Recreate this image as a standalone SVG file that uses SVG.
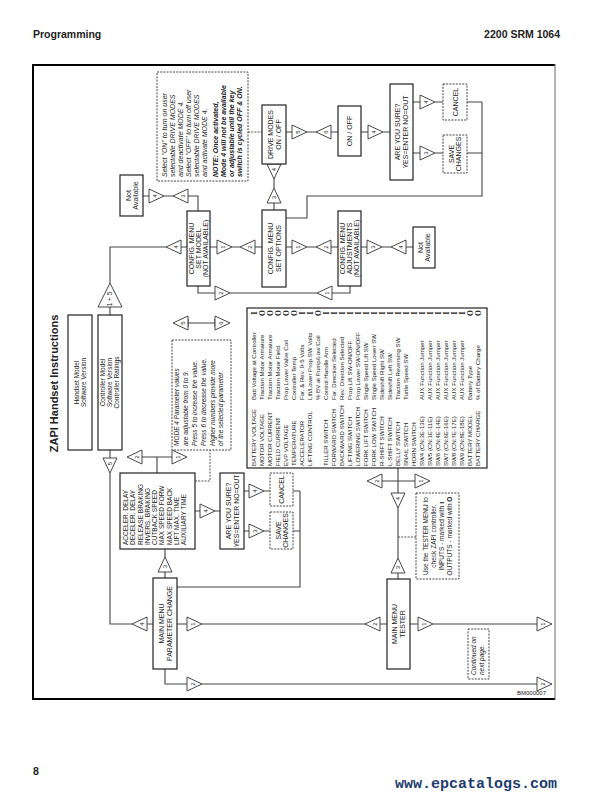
<svg xmlns="http://www.w3.org/2000/svg" xmlns:xlink="http://www.w3.org/1999/xlink" width="607" height="802" viewBox="0 0 607 802">
<style>
text{font-family:"Liberation Sans",Arial,sans-serif;fill:#222}
.bx{fill:#fff;stroke:#222;stroke-width:1.2}
.dbx{fill:#fff;stroke:#444;stroke-width:1;stroke-dasharray:2 1.2}
.ln{fill:none;stroke:#444;stroke-width:1.1}
.dln{fill:none;stroke:#555;stroke-width:1;stroke-dasharray:2 1.2}
.c7{font-size:7px;text-anchor:middle}
.c65{font-size:6.5px;text-anchor:middle}
.s7{font-size:7px}
.s65{font-size:6.5px}
.s62{font-size:6.1px}
.it{font-style:italic}
.bi{font-style:italic;font-weight:bold}
.tn{font-size:6px;text-anchor:middle}
.io{font-family:"Liberation Serif","Times New Roman",serif;font-weight:bold;font-size:7.5px;text-anchor:middle}
.hd{font-size:10.5px;font-weight:bold}
</style>
<defs>
<path id="tr" d="M0,-7 L15,0 L0,7 Z" fill="#fff" stroke="#333" stroke-width="0.9"/>
</defs>

<!-- page header / footer -->
<text class="hd" x="33" y="38">Programming</text>
<text class="hd" x="560" y="38" text-anchor="end">2200 SRM 1064</text>
<text class="hd" x="33" y="775">8</text>
<text x="395" y="788" style="font-family:'Liberation Mono','Courier New',monospace;font-size:15px;font-weight:bold;fill:#1e3c6e">www.epcatalogs.com</text>

<!-- frame -->
<path d="M555,65 H33 V699 H555" fill="none" stroke="#000" stroke-width="2"/>
<line x1="555" y1="64" x2="555" y2="700" stroke="#666" stroke-width="1"/>
<text x="517" y="695" style="font-size:6px">BM000007</text>
<text class="hd" transform="translate(58,383.5) rotate(-90)" text-anchor="middle" style="font-size:11px">ZAPI Handset Instructions</text>

<!-- connectors -->
<g id="connectors">
<path class="ln" d="M286,132 H292 M307,132 H316 M331,132 H338 M361,132 H368 M383,132 H390"/>
<path class="dln" d="M248,132 H262"/>
<path class="ln" d="M413,102 H420 M435,102 H443 M467,102 H482 M413,153 H420 M435,153 H443 M467,153 H482 M482,102 V196 H307 V218 H286"/>
<path class="ln" d="M274,179 V188 M274,203 V210"/>
<path class="ln" d="M143,196 H149 M164,196 H173 M188,196 H198 V211"/>
<path class="ln" d="M110,283 V247 H166 M181,247 H187 M210,247 H217 M232,247 H240 M255,247 H262 M286,247 H292 M307,247 H316 M331,247 H338 M361,247 H367 M382,247 H391 M406,247 H413"/>
<path class="ln" d="M110,307 V315"/>
<path class="ln" d="M198,286 V293 H215 M230,293 H317 M332,293 H350 V286"/>
<path class="ln" d="M188,323 H215 M188,319 V327 M215,319 V327"/>
<path class="ln" d="M110,450 V458 M110,473 V624 H132 M147,624 H153"/>
<path class="ln" d="M142,457 H172 M157,457 V473"/>
<path class="dln" d="M195,481 H210 V450"/>
<path class="ln" d="M195,511 H200 M215,511 H220"/>
<path class="ln" d="M244,491 H249 M264,491 H270 M293,491 H300 M244,531 H249 M264,531 H270 M293,531 H300 M300,491 V587 H177"/>
<path class="ln" d="M165,549 V557 M165,572 V578"/>
<path class="ln" d="M177,624 H187 M202,624 H365 M380,624 H387 M410,624 H418 M433,624 H537"/>
<path class="ln" d="M165,669 V684 H187 M202,684 H537"/>
<path class="ln" d="M398,468 V493 M398,508 V558 M398,573 V579 M382,481 H415"/>
<path class="dln" d="M398,537 H416"/>
</g>

<!-- triangles -->
<g id="keys">
<use xlink:href="#tr" transform="translate(292,132)"/><text class="tn" transform="translate(297.5,132) rotate(-90)" y="2.1">5</text>
<use xlink:href="#tr" transform="translate(331,132) rotate(180)"/><text class="tn" transform="translate(325.5,132) rotate(-90)" y="2.1">6</text>
<use xlink:href="#tr" transform="translate(368,132)"/><text class="tn" transform="translate(373.5,132) rotate(-90)" y="2.1">4</text>
<use xlink:href="#tr" transform="translate(420,102)"/><text class="tn" transform="translate(425.5,102) rotate(-90)" y="2.1">4</text>
<use xlink:href="#tr" transform="translate(420,153)"/><text class="tn" transform="translate(425.5,153) rotate(-90)" y="2.1">3</text>
<use xlink:href="#tr" transform="translate(274,164) rotate(90)"/><text class="tn" transform="translate(274,169.5) rotate(-90)" y="2.1">4</text>
<use xlink:href="#tr" transform="translate(274,203) rotate(-90)"/><text class="tn" transform="translate(274,197.5) rotate(-90)" y="2.1">3</text>
<use xlink:href="#tr" transform="translate(149,196)"/><text class="tn" transform="translate(154.5,196) rotate(-90)" y="2.1">4</text>
<use xlink:href="#tr" transform="translate(188,196) rotate(180)"/><text class="tn" transform="translate(182.5,196) rotate(-90)" y="2.1">3</text>
<use xlink:href="#tr" transform="translate(181,247) rotate(180)"/><text class="tn" transform="translate(175.5,247) rotate(-90)" y="2.1">4</text>
<use xlink:href="#tr" transform="translate(217,247)"/><text class="tn" transform="translate(222.5,247) rotate(-90)" y="2.1">1</text>
<use xlink:href="#tr" transform="translate(255,247) rotate(180)"/><text class="tn" transform="translate(249.5,247) rotate(-90)" y="2.1">2</text>
<use xlink:href="#tr" transform="translate(292,247)"/><text class="tn" transform="translate(297.5,247) rotate(-90)" y="2.1">1</text>
<use xlink:href="#tr" transform="translate(331,247) rotate(180)"/><text class="tn" transform="translate(325.5,247) rotate(-90)" y="2.1">2</text>
<use xlink:href="#tr" transform="translate(367,247)"/><text class="tn" transform="translate(372.5,247) rotate(-90)" y="2.1">3</text>
<use xlink:href="#tr" transform="translate(406,247) rotate(180)"/><text class="tn" transform="translate(400.5,247) rotate(-90)" y="2.1">4</text>
<use xlink:href="#tr" transform="translate(215,293)"/><text class="tn" transform="translate(220.5,293) rotate(-90)" y="2.1">2</text>
<use xlink:href="#tr" transform="translate(332,293) rotate(180)"/><text class="tn" transform="translate(326.5,293) rotate(-90)" y="2.1">1</text>
<path d="M98,307 L122,307 L110,283 Z" fill="#fff" stroke="#333" stroke-width="0.9"/><text class="tn" transform="translate(110,299) rotate(-90)" y="2.1" style="font-size:6.5px">1 + 5</text>
<use xlink:href="#tr" transform="translate(188,323) rotate(180)"/><text class="tn" transform="translate(182.5,323) rotate(-90)" y="2.1">5</text>
<use xlink:href="#tr" transform="translate(215,323)"/><text class="tn" transform="translate(220.5,323) rotate(-90)" y="2.1">6</text>
<use xlink:href="#tr" transform="translate(110,458) rotate(90)"/><text class="tn" transform="translate(110,463.5) rotate(-90)" y="2.1">5</text>
<use xlink:href="#tr" transform="translate(142,457) rotate(180)"/><text class="tn" transform="translate(136.5,457) rotate(-90)" y="2.1">2</text>
<use xlink:href="#tr" transform="translate(172,457)"/><text class="tn" transform="translate(177.5,457) rotate(-90)" y="2.1">1</text>
<use xlink:href="#tr" transform="translate(200,511)"/><text class="tn" transform="translate(205.5,511) rotate(-90)" y="2.1">4</text>
<use xlink:href="#tr" transform="translate(249,491)"/><text class="tn" transform="translate(254.5,491) rotate(-90)" y="2.1">4</text>
<use xlink:href="#tr" transform="translate(249,531)"/><text class="tn" transform="translate(254.5,531) rotate(-90)" y="2.1">3</text>
<use xlink:href="#tr" transform="translate(165,572) rotate(-90)"/><text class="tn" transform="translate(165,566.5) rotate(-90)" y="2.1">3</text>
<use xlink:href="#tr" transform="translate(147,624) rotate(180)"/><text class="tn" transform="translate(141.5,624) rotate(-90)" y="2.1">4</text>
<use xlink:href="#tr" transform="translate(187,624)"/><text class="tn" transform="translate(192.5,624) rotate(-90)" y="2.1">1</text>
<use xlink:href="#tr" transform="translate(380,624) rotate(180)"/><text class="tn" transform="translate(374.5,624) rotate(-90)" y="2.1">2</text>
<use xlink:href="#tr" transform="translate(418,624)"/><text class="tn" transform="translate(423.5,624) rotate(-90)" y="2.1">1</text>
<use xlink:href="#tr" transform="translate(537,624)"/><text class="tn" transform="translate(542.5,624) rotate(-90)" y="2.1">1</text>
<use xlink:href="#tr" transform="translate(187,684)"/><text class="tn" transform="translate(192.5,684) rotate(-90)" y="2.1">2</text>
<use xlink:href="#tr" transform="translate(537,684)"/><text class="tn" transform="translate(542.5,684) rotate(-90)" y="2.1">2</text>
<use xlink:href="#tr" transform="translate(382,481) rotate(180)"/><text class="tn" transform="translate(376.5,481) rotate(-90)" y="2.1">2</text>
<use xlink:href="#tr" transform="translate(415,481)"/><text class="tn" transform="translate(420.5,481) rotate(-90)" y="2.1">1</text>
<use xlink:href="#tr" transform="translate(398,493) rotate(90)"/><text class="tn" transform="translate(398,498.5) rotate(-90)" y="2.1">4</text>
<use xlink:href="#tr" transform="translate(398,573) rotate(-90)"/><text class="tn" transform="translate(398,567.5) rotate(-90)" y="2.1">3</text>
</g>

<!-- nodes -->
<g id="note-drive">
<rect class="dbx" x="157" y="72" width="91" height="109"/>
<g transform="translate(157,181) rotate(-90)" class="s7">
<text class="it" x="4" y="10">Select "ON" to turn on user</text>
<text class="it" x="4" y="18">selectable DRIVE MODES</text>
<text class="it" x="4" y="26">and deactivate MODE 4.</text>
<text class="it" x="4" y="34">Select "OFF" to turn off user</text>
<text class="it" x="4" y="42">selectable DRIVE MODES</text>
<text class="it" x="4" y="50">and activate MODE 4.</text>
<text class="bi" x="4" y="61">NOTE: Once activated,</text>
<text class="bi" x="4" y="69">Mode 4 will not be available</text>
<text class="bi" x="4" y="77">or adjustable until the key</text>
<text class="bi" x="4" y="85">switch is cycled OFF &amp; ON.</text>
</g>
</g>
<g id="drive-modes"><rect class="bx" x="262" y="105" width="24" height="59"/>
<text class="c7" transform="translate(274,134.5) rotate(-90)"><tspan x="0" y="-1.5">DRIVE MODES</tspan><tspan x="0" y="6.5">ON / OFF</tspan></text></g>
<g id="on-off"><rect class="bx" x="338" y="106" width="23" height="50"/>
<text class="c7" transform="translate(349.5,131) rotate(-90)" y="2.5">ON / OFF</text></g>
<g id="sure-1"><rect class="bx" x="390" y="84" width="23" height="96"/>
<text class="c7" transform="translate(401.5,132) rotate(-90)"><tspan x="0" y="-1.5">ARE YOU SURE?</tspan><tspan x="0" y="6.5">YES=ENTER  NO=OUT</tspan></text></g>
<g id="cancel-1"><rect class="dbx" x="443" y="84" width="24" height="36"/>
<text class="c7" transform="translate(455,102) rotate(-90)" y="2.5">CANCEL</text></g>
<g id="save-1"><rect class="dbx" x="443" y="135" width="24" height="38"/>
<text class="c7" transform="translate(455,154) rotate(-90)"><tspan x="0" y="-1">SAVE</tspan><tspan x="0" y="6">CHANGES</tspan></text></g>
<g id="na-1"><rect class="bx" x="120" y="175" width="23" height="41"/>
<text class="c7" transform="translate(131.5,195.5) rotate(-90)"><tspan x="0" y="-1">Not</tspan><tspan x="0" y="6">Available</tspan></text></g>
<g id="set-model"><rect class="bx" x="187" y="211" width="23" height="75"/>
<text class="c7" transform="translate(198.5,248.5) rotate(-90)"><tspan x="0" y="-4.5">CONFIG. MENU</tspan><tspan x="0" y="2.5">SET MODEL</tspan><tspan x="0" y="9.5">(NOT AVAILABLE)</tspan></text></g>
<g id="set-options"><rect class="bx" x="262" y="210" width="24" height="77"/>
<text class="c7" transform="translate(274,248.5) rotate(-90)"><tspan x="0" y="-1.5">CONFIG. MENU</tspan><tspan x="0" y="6.5">SET OPTIONS</tspan></text></g>
<g id="adjustments"><rect class="bx" x="338" y="211" width="23" height="75"/>
<text class="c7" transform="translate(349.5,248.5) rotate(-90)"><tspan x="0" y="-4.5">CONFIG. MENU</tspan><tspan x="0" y="2.5">ADJUSTMENTS</tspan><tspan x="0" y="9.5">(NOT AVAILABLE)</tspan></text></g>
<g id="na-2"><rect class="bx" x="413" y="227" width="22" height="41"/>
<text class="c7" transform="translate(424,247.5) rotate(-90)"><tspan x="0" y="-1">Not</tspan><tspan x="0" y="6">Available</tspan></text></g>
<g id="handset"><rect class="bx" x="68" y="315" width="24" height="135"/>
<text class="c65" transform="translate(80,382.5) rotate(-90)"><tspan x="0" y="-1.4">Handset Model</tspan><tspan x="0" y="6">Software Version</tspan></text></g>
<g id="controller"><rect class="bx" x="98" y="315" width="24" height="135"/>
<text class="c65" transform="translate(110,382.5) rotate(-90)"><tspan x="0" y="-4.7">Controller Model</tspan><tspan x="0" y="2.3">Software Version</tspan><tspan x="0" y="9.3">Controller Ratings</tspan></text></g>
<g id="mode4-note"><rect class="dbx" x="172" y="340" width="59" height="110"/>
<g transform="translate(172,450) rotate(-90)" class="s65 it">
<text x="4" y="7.3">MODE 4 Parameter values</text>
<text x="4" y="16.1">are adjustable from 0 to 9.</text>
<text x="4" y="24.9">Press 5 to increase the value.</text>
<text x="4" y="33.7">Press 6 to decrease the value.</text>
<text x="4" y="42.5">Higher numbers provide more</text>
<text x="4" y="51.3">of the selected parameter.</text>
</g></g>
<g id="tester-list"><rect class="bx" x="247" y="308" width="240" height="160"/>
<g transform="translate(247,468) rotate(-90)" class="s62">
<text x="2" y="9.3">BATTERY VOLTAGE</text><text x="68" y="9.3">Batt Voltage at Controller</text><text class="io" x="155" y="9.6">I</text>
<text x="2" y="17.3">MOTOR VOLTAGE</text><text x="68" y="17.3">Traction Motor Armature</text><text class="io" x="155" y="17.6">O</text>
<text x="2" y="25.3">MOTOR CURRENT</text><text x="68" y="25.3">Traction Motor Armature</text><text class="io" x="155" y="25.6">O</text>
<text x="2" y="33.3">FIELD CURRENT</text><text x="68" y="33.3">Traction Motor Field</text><text class="io" x="155" y="33.6">O</text>
<text x="2" y="41.3">EVP VOLTAGE</text><text x="68" y="41.3">Prop Lower Valve Coil</text><text class="io" x="155" y="41.6">O</text>
<text x="2" y="49.3">TEMPERATURE</text><text x="68" y="49.3">Controller Temp</text><text class="io" x="155" y="49.6">O</text>
<text x="2" y="57.3">ACCELERATOR</text><text x="68" y="57.3">For. &amp; Rev. 0-5 Volts</text><text class="io" x="155" y="57.6">I</text>
<text x="2" y="65.3">LIFTING CONTROL</text><text x="68" y="65.3">Lift/Lower Prop SW Volts</text><text class="io" x="155" y="65.6">I</text>
<text x="68" y="73.3">% BV at Pump/Low Coil</text><text class="io" x="155" y="73.6">O</text>
<text x="2" y="81.3">TILLER SWITCH</text><text x="68" y="81.3">Control Handle Arm</text><text class="io" x="155" y="81.6">I</text>
<text x="2" y="89.3">FORWARD SWITCH</text><text x="68" y="89.3">For. Direction Selected</text><text class="io" x="155" y="89.6">I</text>
<text x="2" y="97.3">BACKWARD SWITCH</text><text x="68" y="97.3">Rev. Direction Selected</text><text class="io" x="155" y="97.6">I</text>
<text x="2" y="105.3">LIFTING SWITCH</text><text x="68" y="105.3">Prop Lift SW-ON/OFF</text><text class="io" x="155" y="105.6">I</text>
<text x="2" y="113.3">LOWERING SWITCH</text><text x="68" y="113.3">Prop Lower SW-ON/OFF</text><text class="io" x="155" y="113.6">I</text>
<text x="2" y="121.3">FORK LIFT SWITCH</text><text x="68" y="121.3">Single Speed Lift SW</text><text class="io" x="155" y="121.6">I</text>
<text x="2" y="129.3">FORK LOW SWITCH</text><text x="68" y="129.3">Single Speed Lower SW</text><text class="io" x="155" y="129.6">I</text>
<text x="2" y="137.3">R-SHIFT SWITCH</text><text x="68" y="137.3">Sideshift Right SW</text><text class="io" x="155" y="137.6">I</text>
<text x="2" y="145.3">L-SHIFT SWITCH</text><text x="68" y="145.3">Sideshift Left SW</text><text class="io" x="155" y="145.6">I</text>
<text x="2" y="153.3">BELLY SWITCH</text><text x="68" y="153.3">Traction Reversing SW</text><text class="io" x="155" y="153.6">I</text>
<text x="2" y="161.3">SNAIL SWITCH</text><text x="68" y="161.3">Turtle Speed SW</text><text class="io" x="155" y="161.6">I</text>
<text x="2" y="169.3">HORN SWITCH</text><text class="io" x="155" y="169.6">I</text>
<text x="2" y="177.3">SW4 (CN:3E-13E)</text><text x="68" y="177.3">AUX Function Jumper</text><text class="io" x="155" y="177.6">I</text>
<text x="2" y="185.3">SW5 (CN:1E-11E)</text><text x="68" y="185.3">AUX Function Jumper</text><text class="io" x="155" y="185.6">I</text>
<text x="2" y="193.3">SW6 (CN:4E-14E)</text><text x="68" y="193.3">AUX Function Jumper</text><text class="io" x="155" y="193.6">I</text>
<text x="2" y="201.3">SW7 (CN:6E-16E)</text><text x="68" y="201.3">AUX Function Jumper</text><text class="io" x="155" y="201.6">I</text>
<text x="2" y="209.3">SW8 (CN:7E-17E)</text><text x="68" y="209.3">AUX Function Jumper</text><text class="io" x="155" y="209.6">I</text>
<text x="2" y="217.3">SW9 (CN:8E-18E)</text><text x="68" y="217.3">AUX Function Jumper</text><text class="io" x="155" y="217.6">I</text>
<text x="2" y="225.3">BATTERY MODEL</text><text x="68" y="225.3">Battery Type</text><text class="io" x="155" y="225.6">O</text>
<text x="2" y="233.3">BATTERY CHARGE</text><text x="68" y="233.3">% of Battery Charge</text><text class="io" x="155" y="233.6">O</text>
</g></g>
<g id="param-list"><rect class="bx" x="120" y="473" width="75" height="76"/>
<g transform="translate(120,549) rotate(-90)" class="s65">
<text x="4" y="7.9">ACCELER. DELAY</text>
<text x="4" y="15.2">DECELER. DELAY</text>
<text x="4" y="22.5">RELEASE BRAKING</text>
<text x="4" y="29.8">INVERS. BRAKING</text>
<text x="4" y="37.1">CUTBACK SPEED</text>
<text x="4" y="44.4">MAX SPEED FORW</text>
<text x="4" y="51.7">MAX SPEED BACK</text>
<text x="4" y="59">LIFT MAX. TIME</text>
<text x="4" y="66.3">AUXILIARY TIME</text>
</g></g>
<g id="sure-2"><rect class="bx" x="220" y="473" width="24" height="76"/>
<text class="c7" transform="translate(232,511) rotate(-90)"><tspan x="0" y="-1.5">ARE YOU SURE?</tspan><tspan x="0" y="6.5">YES=ENTER NO=OUT</tspan></text></g>
<g id="cancel-2"><rect class="dbx" x="270" y="473" width="23" height="33"/>
<text class="c7" transform="translate(281.5,489.5) rotate(-90)" y="2.5">CANCEL</text></g>
<g id="save-2"><rect class="dbx" x="270" y="512" width="23" height="37"/>
<text class="c7" transform="translate(281.5,530.5) rotate(-90)"><tspan x="0" y="-1">SAVE</tspan><tspan x="0" y="6">CHANGES</tspan></text></g>
<g id="param-change"><rect class="bx" x="153" y="578" width="24" height="91"/>
<text class="c7" transform="translate(165,623.5) rotate(-90)"><tspan x="0" y="-1.5">MAIN MENU</tspan><tspan x="0" y="6.5">PARAMETER CHANGE</tspan></text></g>
<g id="tester"><rect class="bx" x="387" y="579" width="23" height="90"/>
<text class="c7" transform="translate(398.5,624) rotate(-90)"><tspan x="0" y="-1.5">MAIN MENU</tspan><tspan x="0" y="6.5">TESTER</tspan></text></g>
<g id="tester-note"><rect class="dbx" x="416" y="493" width="43" height="86"/>
<g transform="translate(416,579) rotate(-90)" class="c65">
<text x="43" y="11.8">Use the  TESTER MENU to</text>
<text x="43" y="19.8">check ZAPI controller.</text>
<text x="43" y="27.8">INPUTS - marked with <tspan style="font-family:'Liberation Serif',serif;font-weight:bold">I</tspan></text>
<text x="43" y="35.8">OUTPUTS - marked with <tspan style="font-weight:bold">O</tspan></text>
</g></g>
<g id="continued"><rect class="dbx" x="468" y="629" width="21" height="50"/>
<g transform="translate(468,679) rotate(-90)" class="s65 it">
<text x="4" y="7.8">Continued on</text>
<text x="4" y="15.8">next page.</text>
</g></g>
</svg>
